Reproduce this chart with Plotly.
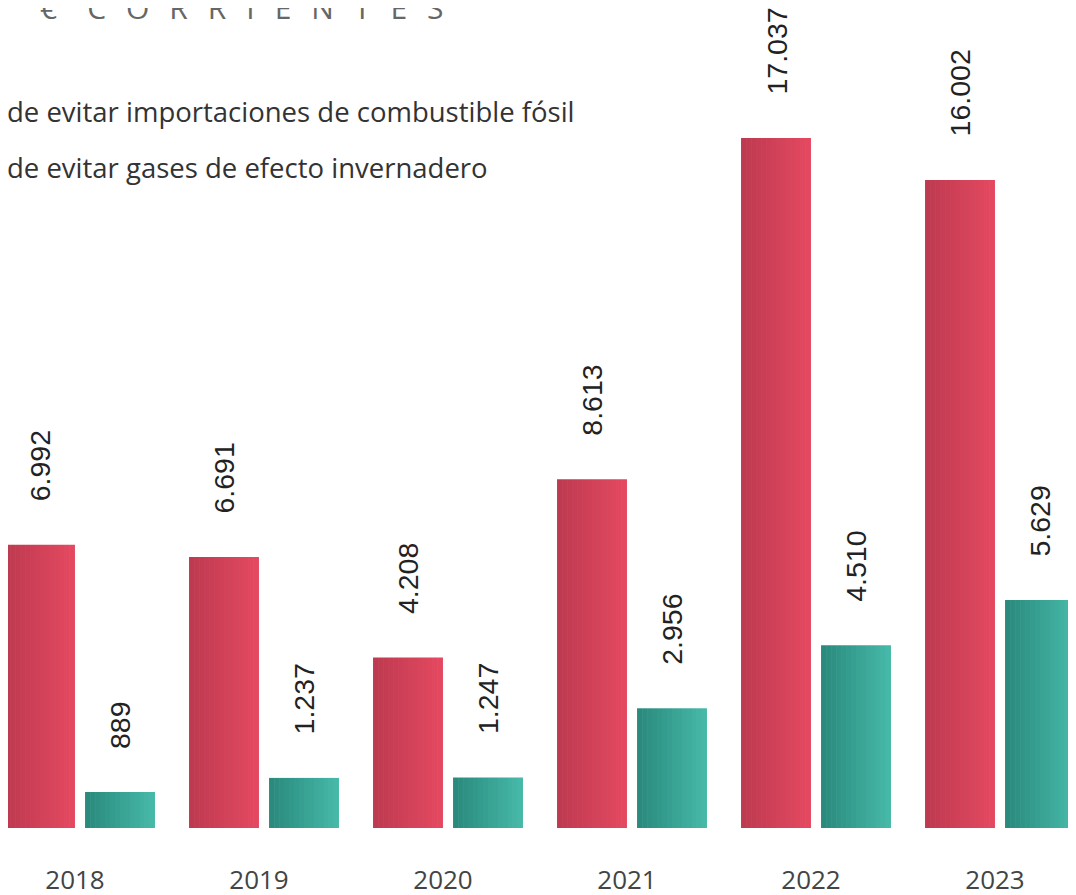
import plotly.graph_objects as go

years = [2018, 2019, 2020, 2021, 2022, 2023]
year_labels = ["2018", "2019", "2020", "2021", "2022", "2023"]
fossil = [6992, 6691, 4208, 8613, 17037, 16002]
ghg = [889, 1237, 1247, 2956, 4510, 5629]
fossil_labels = ["6.992", "6.691", "4.208", "8.613", "17.037", "16.002"]
ghg_labels = ["889", "1.237", "1.247", "2.956", "4.510", "5.629"]
legend_texts = ["de evitar importaciones de combustible fósil",
                "de evitar gases de efecto invernadero"]
title_text = "€ CORRIENTES"

RED_L, RED_R = (190, 58, 80), (228, 72, 96)
TEAL_L, TEAL_R = (42, 138, 125), (69, 184, 168)
BAR_W = 0.38
OFF = 0.2174
N_STRIPES = 14
W, H = 1076, 895
PAGE_OFF = 8  # default body margin of the html page


def mix(c1, c2, t):
    return "rgb(%d,%d,%d)" % tuple(round(a + (b - a) * t) for a, b in zip(c1, c2))


fig = go.Figure()
sw = BAR_W / N_STRIPES
for vals, center, cl, cr in [(fossil, -OFF, RED_L, RED_R), (ghg, OFF, TEAL_L, TEAL_R)]:
    for k in range(N_STRIPES):
        t = k / (N_STRIPES - 1)
        fig.add_trace(go.Bar(x=years, y=vals, width=sw,
                             offset=center - BAR_W / 2 + k * sw,
                             marker=dict(color=mix(cl, cr, t), line=dict(width=0)),
                             showlegend=False, hoverinfo="x+y"))

label_font = dict(family="Liberation Sans, Arial", size=28.5, color="#222222")
for yr, v, t in zip(years, fossil, fossil_labels):
    fig.add_annotation(x=yr - OFF, y=v, text=t, textangle=-90, showarrow=False,
                       yanchor="bottom", yshift=41, font=label_font)
for yr, v, t in zip(years, ghg, ghg_labels):
    fig.add_annotation(x=yr + OFF, y=v, text=t, textangle=-90, showarrow=False,
                       yanchor="bottom", yshift=41, font=label_font)

# spaced title
spaced = title_text[0] + "\u2003" + "\u2002\u2009".join(title_text[2:])
fig.add_annotation(xref="paper", yref="paper", x=30 / W, y=1, xanchor="left",
                   yanchor="middle", yshift=1, text=spaced, showarrow=False,
                   font=dict(family="Open Sans", size=30, color="#666666"))

for i, t in enumerate(legend_texts):
    fig.add_annotation(xref="paper", yref="paper", x=-3 / W, y=1, xanchor="left",
                       yanchor="middle", yshift=-103 - 56 * i, text=t, showarrow=False,
                       font=dict(family="Open Sans", size=27.5, color="#333333"))

x0 = years[0] - (80 - PAGE_OFF) / 184
base = 828 - PAGE_OFF
fig.update_layout(
    width=W, height=H,
    margin=dict(l=0, r=0, t=0, b=H - base),
    paper_bgcolor="white", plot_bgcolor="white",
    barmode="overlay",
    xaxis=dict(range=[x0, x0 + W / 184], tickmode="array",
               tickvals=[y - 5 / 184 for y in years],
               ticktext=year_labels, showgrid=False, zeroline=False, showline=False,
               ticks="", ticklabelstandoff=34,
               tickfont=dict(family="Open Sans", size=26, color="#444444")),
    yaxis=dict(range=[0, base * 17037 / 690], visible=False, showgrid=False),
)

fig.write_html("out.html")
